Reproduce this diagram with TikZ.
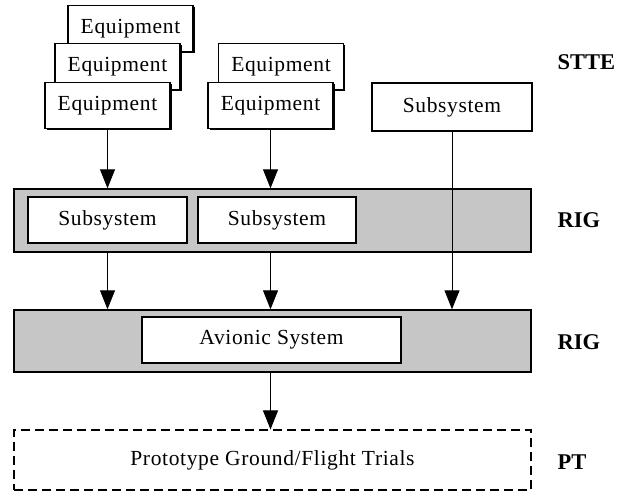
\documentclass[tikz,border=0pt]{standalone}
\usepackage{fontspec}
\setmainfont{Liberation Serif}
\newfontfamily\boxfont{Liberation Serif}[LetterSpace=3]
\definecolor{RigGrey}{RGB}{198, 198, 198}
\usepackage{tikz}
\usetikzlibrary{arrows.meta, positioning, shadows}
\tikzset{
  unitbox/.style={rectangle, draw=black, fill=white, line width=1.3pt,
                  minimum width=#1, minimum height=46pt, inner sep=0pt,
                  font=\boxfont\fontsize{21.5}{24}\selectfont, align=center},
  eqbox/.style={unitbox=125pt, drop shadow={shadow xshift=1.5pt, shadow yshift=-1.5pt,
                fill=black, opacity=1}},
  rigband/.style={rectangle, draw=black, fill=RigGrey, line width=1.4pt,
                  minimum width=517pt, minimum height=#1, inner sep=0pt},
  trialbox/.style={rectangle, draw=black, dash pattern=on 9pt off 5pt, line width=1.1pt,
                   minimum width=517pt, minimum height=60pt, inner sep=0pt,
                   font=\boxfont\fontsize{21.5}{24}\selectfont},
  lvl/.style={anchor=west, font=\fontsize{22.5}{24}\selectfont\bfseries},
  arr/.style={-{Triangle[width=15pt, length=19pt]}, line width=1pt},
}

\begin{document}
\begin{tikzpicture}[x=1pt, y=-1pt]
  \useasboundingbox (0,0) rectangle (634,492);

  \node[eqbox] (eqa) at (130.5,28.5) {Equipment};
  \node[eqbox] (eqb) at (117.5,66.5) {Equipment};
  \node[eqbox] (eqc) at (107.5,105.5) {Equipment};
  \node[eqbox] (eqd) at (281,66.5) {Equipment};
  \node[eqbox] (eqe) at (270.5,105.5) {Equipment};
  \node[unitbox=160pt, minimum height=48pt] (subtop) at (452,107) {Subsystem};

  \node[rigband=63pt] (bandone) at (272.5,220.5) {};
  \node[unitbox=159pt] (subone) at (107.5,220) {Subsystem};
  \node[unitbox=158pt] (subtwo) at (277,220) {Subsystem};

  \node[rigband=62pt] (bandtwo) at (272.5,341) {};
  \node[unitbox=259pt] (avionic) at (271.5,340) {Avionic System};

  \node[trialbox] (trials) at (272.5,460) {Prototype Ground/Flight Trials};

  \node[lvl] (stte) at (554,62) {STTE};
  \node[lvl] (rigone) at (554,220) {RIG};
  \node[lvl] (rigtwo) at (554,342) {RIG};
  \node[lvl] (pt) at (554,462) {PT};

  \draw[arr] (eqc.south) -- (eqc.south |- bandone.north);
  \draw[arr] (eqe.south) -- (eqe.south |- bandone.north);
  \draw[arr] (eqc.south |- bandone.south) -- (eqc.south |- bandtwo.north);
  \draw[arr] (eqe.south |- bandone.south) -- (eqe.south |- bandtwo.north);
  \draw[arr] (subtop.south) -- (subtop.south |- bandtwo.north);
  \draw[arr] (eqe.south |- bandtwo.south) -- (eqe.south |- trials.north);
\end{tikzpicture}
\end{document}
